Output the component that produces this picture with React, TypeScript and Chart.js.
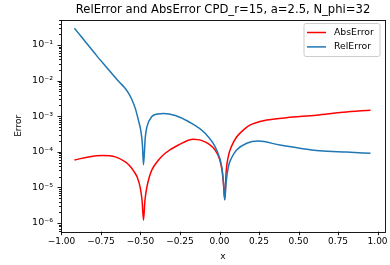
import React, { useEffect, useRef } from 'react';
import { Chart, registerables } from 'chart.js';

Chart.register(...registerables);

const chartTitle = 'RelError and AbsError CPD_r=15, a=2.5, N_phi=32';
const xTitle = 'x';
const yTitle = 'Error';
const seriesNames = ['AbsError', 'RelError'];
const seriesColors = ['#ff0000', '#1f77b4'];

const xAbs = [-0.918, -0.828, -0.743, -0.659, -0.596, -0.57, -0.544, -0.52, -0.502, -0.49, -0.481, -0.472, -0.459, -0.445, -0.428, -0.39, -0.344, -0.26, -0.165, -0.091, -0.028, 0.0, 0.015, 0.025, 0.033, 0.042, 0.056, 0.075, 0.108, 0.14, 0.192, 0.298, 0.424, 0.613, 0.781, 0.955];
const absError = [5.9e-5, 7.2e-5, 7.9e-5, 7.2e-5, 5.2e-5, 4.1e-5, 2.9e-5, 1.9e-5, 1.0e-5, 4.3e-6, 1.2e-6, 4.3e-6, 1.05e-5, 1.9e-5, 3.1e-5, 5.6e-5, 9.1e-5, 1.55e-4, 2.24e-4, 1.9e-4, 1.12e-4, 6.3e-5, 3.2e-5, 1.26e-5, 4.5e-6, 2.8e-5, 7.6e-5, 1.4e-4, 2.6e-4, 3.7e-4, 5.6e-4, 7.8e-4, 9.1e-4, 1.07e-3, 1.29e-3, 1.48e-3];

const xRel = [-0.918, -0.87, -0.828, -0.78, -0.722, -0.68, -0.638, -0.6, -0.575, -0.554, -0.533, -0.52, -0.512, -0.5, -0.492, -0.487, -0.481, -0.47, -0.459, -0.428, -0.39, -0.354, -0.28, -0.197, -0.091, -0.018, 0.014, 0.025, 0.033, 0.042, 0.056, 0.075, 0.108, 0.172, 0.245, 0.382, 0.508, 0.634, 0.803, 0.955];
const relError = [2.95e-1, 1.62e-1, 9.5e-2, 5.2e-2, 2.57e-2, 1.55e-2, 9.5e-3, 6.3e-3, 4.4e-3, 2.9e-3, 1.66e-3, 1.02e-3, 7.4e-4, 4.4e-4, 2.5e-4, 1.38e-4, 4.3e-5, 2.5e-4, 5.1e-4, 9.8e-4, 1.15e-3, 1.2e-3, 1.05e-3, 7.1e-4, 3.3e-4, 1.12e-4, 3.8e-5, 1.4e-5, 4.5e-6, 1.4e-5, 3.8e-5, 6.6e-5, 1.12e-4, 1.74e-4, 2.0e-4, 1.55e-4, 1.26e-4, 1.07e-4, 9.8e-5, 9.1e-5];

const xTicks = [-1, -0.75, -0.5, -0.25, 0, 0.25, 0.5, 0.75, 1];
const xTickLabels = ['\u22121.00', '\u22120.75', '\u22120.50', '\u22120.25', '0.00', '0.25', '0.50', '0.75', '1.00'];
const yDecades = [-6, -5, -4, -3, -2, -1];
const yTickLabels = ['10\u207B\u2076', '10\u207B\u2075', '10\u207B\u2074', '10\u207B\u00B3', '10\u207B\u00B2', '10\u207B\u00B9'];

const X_MIN = -1.003;
const X_MAX = 1.047;
const Y_MIN = 5.7e-7;
const Y_MAX = 0.504;

const FONT = 'DejaVu Sans';

function isDecade(v: number) {
  const l = Math.log10(v);
  return Math.abs(l - Math.round(l)) < 1e-6;
}

const framePlugin = {
  id: 'framePlugin',
  afterDraw(chart: any) {
    const ctx = chart.ctx;
    const { left, right, top, bottom } = chart.chartArea;
    const xs = chart.scales.x;
    const ys = chart.scales.y;
    ctx.save();
    ctx.strokeStyle = '#000';
    ctx.lineWidth = 0.9;
    xTicks.forEach((v) => {
      const px = Math.round(xs.getPixelForValue(v)) + 0.5;
      ctx.beginPath();
      ctx.moveTo(px, bottom);
      ctx.lineTo(px, bottom + 3.5);
      ctx.stroke();
    });
    ys.ticks.forEach((t: any) => {
      const py = Math.round(ys.getPixelForValue(t.value)) + 0.5;
      const len = isDecade(t.value) ? 3.5 : 2;
      ctx.beginPath();
      ctx.moveTo(left, py);
      ctx.lineTo(left - len, py);
      ctx.stroke();
    });
    ctx.strokeRect(Math.round(left) + 0.5, Math.round(top) + 0.5, Math.round(right - left), Math.round(bottom - top));

    ctx.fillStyle = '#000';
    ctx.font = `11.6px "${FONT}"`;
    ctx.textAlign = 'center';
    ctx.textBaseline = 'middle';
    ctx.fillText(chartTitle, (left + right) / 2, 10);

    const bx = 304, by = 23.5, bw = 76, bh = 33;
    ctx.beginPath();
    const r = 2;
    ctx.moveTo(bx + r, by);
    ctx.lineTo(bx + bw - r, by);
    ctx.arcTo(bx + bw, by, bx + bw, by + r, r);
    ctx.lineTo(bx + bw, by + bh - r);
    ctx.arcTo(bx + bw, by + bh, bx + bw - r, by + bh, r);
    ctx.lineTo(bx + r, by + bh);
    ctx.arcTo(bx, by + bh, bx, by + bh - r, r);
    ctx.lineTo(bx, by + r);
    ctx.arcTo(bx, by, bx + r, by, r);
    ctx.closePath();
    ctx.fillStyle = 'rgba(255,255,255,0.8)';
    ctx.fill();
    ctx.strokeStyle = '#cccccc';
    ctx.lineWidth = 1;
    ctx.stroke();
    ctx.font = `9.3px "${FONT}"`;
    ctx.textAlign = 'left';
    seriesNames.forEach((name, i) => {
      const yy = 32.5 + i * 14.4;
      ctx.strokeStyle = seriesColors[i];
      ctx.lineWidth = 1.5;
      ctx.beginPath();
      ctx.moveTo(307, yy);
      ctx.lineTo(326, yy);
      ctx.stroke();
      ctx.fillStyle = '#000';
      ctx.fillText(name, 334, yy);
    });
    ctx.restore();
  },
};

export default function App() {
  const canvasRef = useRef<HTMLCanvasElement | null>(null);

  useEffect(() => {
    document.body.style.margin = '0';
    const canvas = canvasRef.current;
    if (!canvas) return;
    const chart = new Chart(canvas, {
      type: 'line',
      data: {
        datasets: [
          {
            label: seriesNames[0],
            data: xAbs.map((x, i) => ({ x, y: absError[i] })),
            borderColor: seriesColors[0],
            backgroundColor: seriesColors[0],
            borderWidth: 1.5,
            pointRadius: 0,
            cubicInterpolationMode: 'monotone',
            fill: false,
            order: 1,
          },
          {
            label: seriesNames[1],
            data: xRel.map((x, i) => ({ x, y: relError[i] })),
            borderColor: seriesColors[1],
            backgroundColor: seriesColors[1],
            borderWidth: 1.5,
            pointRadius: 0,
            cubicInterpolationMode: 'monotone',
            fill: false,
            order: 0,
          },
        ],
      },
      options: {
        responsive: true,
        maintainAspectRatio: false,
        animation: false,
        devicePixelRatio: 1,
        layout: { padding: { top: 20, right: 5, left: 0, bottom: 0 } },
        plugins: {
          legend: { display: false },
          title: { display: false },
          tooltip: { enabled: false },
        },
        scales: {
          x: {
            type: 'linear',
            min: X_MIN,
            max: X_MAX,
            afterBuildTicks: (scale: any) => {
              scale.ticks = xTicks.map((v) => ({ value: v }));
            },
            afterFit: (scale: any) => {
              scale.height = 33.3;
            },
            grid: { display: true, drawOnChartArea: false, drawTicks: true, tickLength: 4, tickColor: 'rgba(0,0,0,0)' },
            border: { display: false },
            ticks: {
              autoSkip: false,
              maxRotation: 0,
              minRotation: 0,
              padding: 1,
              color: '#000',
              font: { family: FONT, size: 9 },
              callback: (_v: any, i: number) => xTickLabels[i],
            },
            title: {
              display: true,
              text: xTitle,
              color: '#000',
              font: { family: FONT, size: 9 },
              padding: { top: 0, bottom: 3.1 },
            },
          },
          y: {
            type: 'logarithmic',
            min: Y_MIN,
            max: Y_MAX,
            afterBuildTicks: (scale: any) => {
              const ticks: any[] = [];
              for (let k = -7; k <= 0; k++) {
                for (let m = 1; m <= 9; m++) {
                  const v = m * Math.pow(10, k);
                  if (v >= Y_MIN && v <= Y_MAX) ticks.push({ value: v, major: m === 1 });
                }
              }
              scale.ticks = ticks;
            },
            afterFit: (scale: any) => {
              scale.width = 61;
            },
            grid: { display: true, drawOnChartArea: false, drawTicks: true, tickLength: 4, tickColor: 'rgba(0,0,0,0)' },
            border: { display: false },
            ticks: {
              autoSkip: false,
              padding: 4,
              color: '#000',
              font: { family: FONT, size: 9.5 },
              callback: (v: any) => {
                const val = Number(v);
                if (!isDecade(val)) return '';
                const idx = yDecades.indexOf(Math.round(Math.log10(val)));
                return idx >= 0 ? yTickLabels[idx] : '';
              },
            },
            title: {
              display: true,
              text: yTitle,
              color: '#000',
              font: { family: FONT, size: 9 },
              padding: { top: 13.6, bottom: 0 },
            },
          },
        },
      },
      plugins: [framePlugin],
    });
    return () => chart.destroy();
  }, []);

  return (
    <div style={{ width: 390, height: 265, position: 'relative' }}>
      <canvas ref={canvasRef} style={{ display: 'block' }} />
    </div>
  );
}
